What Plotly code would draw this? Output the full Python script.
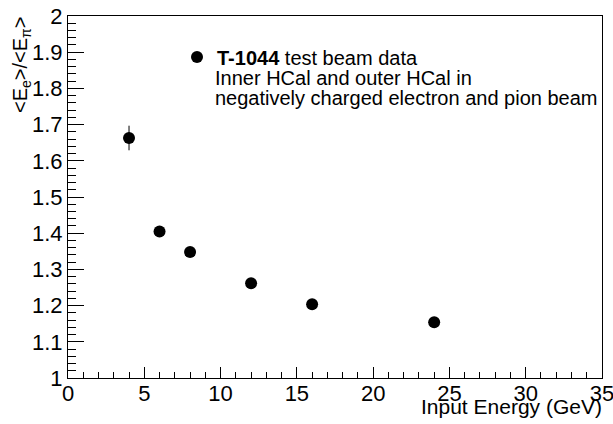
"""Отношение <E_e>/<E_pi> в зависимости от энергии пучка (T-1044)."""

import plotly.graph_objects as go

energy_gev = [4, 6, 8, 12, 16, 24]
ratio = [1.663, 1.405, 1.348, 1.262, 1.204, 1.154]
ratio_err = [0.034, 0.006, 0.005, 0.004, 0.004, 0.004]

legend_name = "<b>T-1044</b> test beam data"
note_lines = ["Inner HCal and outer HCal in", "negatively charged electron and pion beam"]
x_title = "Input Energy (GeV)"
y_title = "<E<sub>e</sub>>/<E<sub>π</sub>>"

FONT = "Liberation Sans, Arial, Helvetica, sans-serif"

# область графика в пикселях (как в исходной картинке)
PLOT_L, PLOT_R, PLOT_T, PLOT_B = 68, 602, 15.5, 378
PLOT_W, PLOT_H = PLOT_R - PLOT_L, PLOT_B - PLOT_T


def px_x(px: float) -> float:
    return (px - PLOT_L) / PLOT_W


def px_y(py: float) -> float:
    return (PLOT_B - py) / PLOT_H


fig = go.Figure()
fig.add_trace(
    go.Scatter(
        x=energy_gev,
        y=ratio,
        mode="markers",
        name=legend_name,
        marker=dict(size=12, color="black", symbol="circle"),
        error_y=dict(type="data", array=ratio_err, visible=True, width=0, thickness=1, color="black"),
    )
)

axis_common = dict(
    showline=True,
    linecolor="black",
    linewidth=1,
    mirror=True,
    showgrid=False,
    zeroline=False,
    automargin=False,
    ticks="inside",
    tickcolor="black",
    ticklabeloverflow="allow",
    tickfont=dict(family=FONT, size=22, color="black"),
)

fig.update_layout(
    width=613,
    height=424,
    margin=dict(l=PLOT_L, r=613 - PLOT_R, t=PLOT_T, b=424 - PLOT_B, autoexpand=False),
    paper_bgcolor="white",
    plot_bgcolor="white",
    font=dict(family=FONT, color="black"),
    showlegend=True,
    legend=dict(
        x=px_x(177),
        y=px_y(37),
        xanchor="left",
        yanchor="top",
        bgcolor="rgba(0,0,0,0)",
        font=dict(family=FONT, size=20, color="black"),
    ),
    xaxis=dict(
        range=[0, 35],
        dtick=5,
        ticklen=11,
        ticklabelstandoff=-4,
        minor=dict(dtick=1, ticklen=6, ticks="inside", tickcolor="black"),
        **axis_common,
    ),
    yaxis=dict(
        range=[1, 2],
        dtick=0.1,
        ticklen=16,
        minor=dict(dtick=0.02, ticklen=8, ticks="inside", tickcolor="black"),
        **axis_common,
    ),
)

for i, line in enumerate(note_lines):
    fig.add_annotation(
        text=line,
        xref="paper",
        yref="paper",
        x=px_x(213),
        y=px_y(77.5 + 20.5 * i),
        xanchor="left",
        yanchor="middle",
        showarrow=False,
        font=dict(family=FONT, size=20, color="black"),
    )

fig.add_annotation(
    text=x_title,
    xref="paper",
    yref="paper",
    x=px_x(604),
    y=px_y(407),
    xanchor="right",
    yanchor="middle",
    showarrow=False,
    font=dict(family=FONT, size=21, color="black"),
)

fig.add_annotation(
    text=y_title,
    textangle=-90,
    xref="paper",
    yref="paper",
    x=px_x(21),
    y=px_y(PLOT_T - 1),
    xanchor="center",
    yanchor="top",
    showarrow=False,
    font=dict(family=FONT, size=20, color="black"),
)

fig.write_html(
    "out.html",
    config={"displayModeBar": False},
    post_script="document.body.style.margin = '0';",
)
